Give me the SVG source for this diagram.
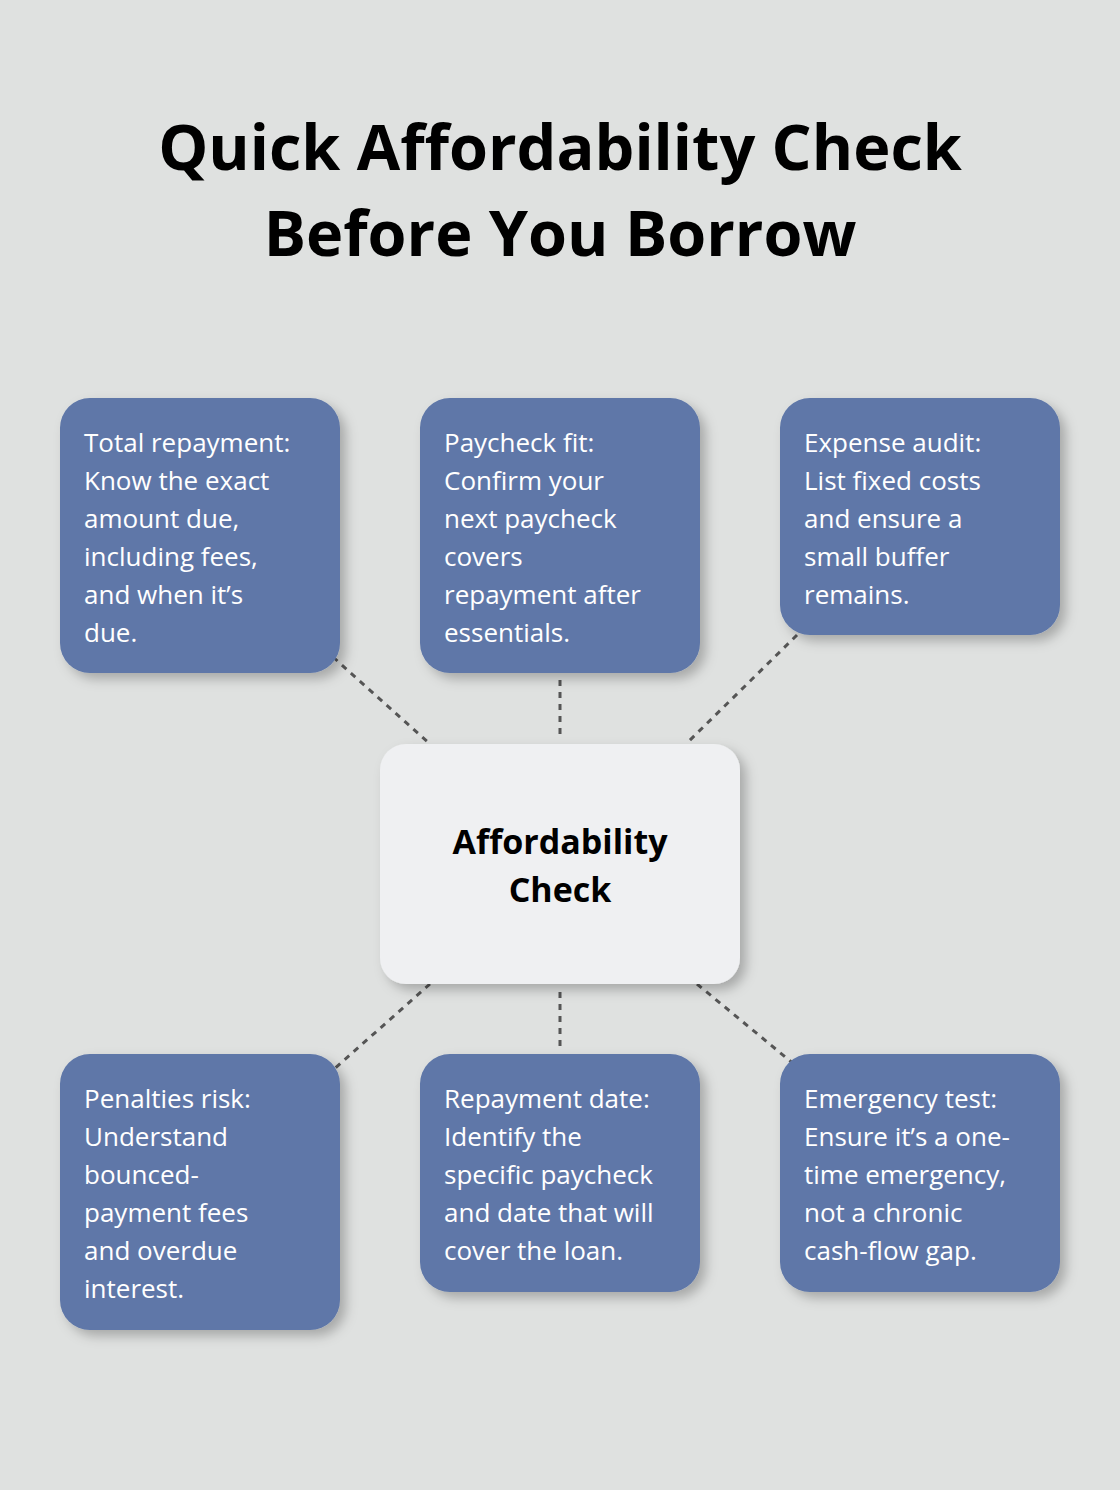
<svg xmlns="http://www.w3.org/2000/svg" width="1120" height="1490" viewBox="0 0 1120 1490">
<defs>
<filter id="sh" x="-20%" y="-20%" width="140%" height="140%"><feDropShadow dx="6" dy="6" stdDeviation="6" flood-color="#000" flood-opacity="0.25"/></filter>
<style>
.b{fill:#5e77a8;filter:url(#sh)}
.t{font-family:"Open Sans","Noto Sans",sans-serif;font-size:26px;fill:#fff}
.c{stroke:#555;stroke-width:3;stroke-dasharray:6 6;fill:none}
</style>
</defs>
<rect width="1120" height="1490" fill="#dfe1e0"/>
<text font-family="Open Sans,Noto Sans,sans-serif" font-weight="bold" font-size="63" text-anchor="middle" fill="#000"><tspan x="560" y="170">Quick Affordability Check</tspan><tspan x="560" y="256">Before You Borrow</tspan></text>
<g id="connectors">
<line class="c" x1="333" y1="657" x2="430" y2="744"/>
<line class="c" x1="560" y1="680" x2="560" y2="740"/>
<line class="c" x1="797" y1="635" x2="686" y2="744"/>
<line class="c" x1="430" y1="984" x2="333" y2="1070"/>
<line class="c" x1="560" y1="992" x2="560" y2="1050"/>
<line class="c" x1="697" y1="984" x2="795" y2="1065"/>
</g>
<g id="center"><rect x="380" y="744" width="360" height="240" rx="26" fill="#eff0f2" filter="url(#sh)"/>
<text font-family="Open Sans,Noto Sans,sans-serif" font-weight="bold" font-size="34" text-anchor="middle" fill="#000"><tspan x="560" y="854">Affordability</tspan><tspan x="560" y="902">Check</tspan></text></g>
<g id="n1"><rect class="b" x="60" y="398" width="280" height="275" rx="30"/><text class="t"><tspan x="84" y="452">Total repayment:</tspan><tspan x="84" y="490">Know the exact</tspan><tspan x="84" y="528">amount due,</tspan><tspan x="84" y="566">including fees,</tspan><tspan x="84" y="604">and when it’s</tspan><tspan x="84" y="642">due.</tspan></text></g>
<g id="n2"><rect class="b" x="420" y="398" width="280" height="275" rx="30"/><text class="t"><tspan x="444" y="452">Paycheck fit:</tspan><tspan x="444" y="490">Confirm your</tspan><tspan x="444" y="528">next paycheck</tspan><tspan x="444" y="566">covers</tspan><tspan x="444" y="604">repayment after</tspan><tspan x="444" y="642">essentials.</tspan></text></g>
<g id="n3"><rect class="b" x="780" y="398" width="280" height="237" rx="30"/><text class="t"><tspan x="804" y="452">Expense audit:</tspan><tspan x="804" y="490">List fixed costs</tspan><tspan x="804" y="528">and ensure a</tspan><tspan x="804" y="566">small buffer</tspan><tspan x="804" y="604">remains.</tspan></text></g>
<g id="n4"><rect class="b" x="60" y="1054" width="280" height="276" rx="30"/><text class="t"><tspan x="84" y="1108">Penalties risk:</tspan><tspan x="84" y="1146">Understand</tspan><tspan x="84" y="1184">bounced-</tspan><tspan x="84" y="1222">payment fees</tspan><tspan x="84" y="1260">and overdue</tspan><tspan x="84" y="1298">interest.</tspan></text></g>
<g id="n5"><rect class="b" x="420" y="1054" width="280" height="238" rx="30"/><text class="t"><tspan x="444" y="1108">Repayment date:</tspan><tspan x="444" y="1146">Identify the</tspan><tspan x="444" y="1184">specific paycheck</tspan><tspan x="444" y="1222">and date that will</tspan><tspan x="444" y="1260">cover the loan.</tspan></text></g>
<g id="n6"><rect class="b" x="780" y="1054" width="280" height="238" rx="30"/><text class="t"><tspan x="804" y="1108">Emergency test:</tspan><tspan x="804" y="1146">Ensure it’s a one-</tspan><tspan x="804" y="1184">time emergency,</tspan><tspan x="804" y="1222">not a chronic</tspan><tspan x="804" y="1260">cash-flow gap.</tspan></text></g>
</svg>
